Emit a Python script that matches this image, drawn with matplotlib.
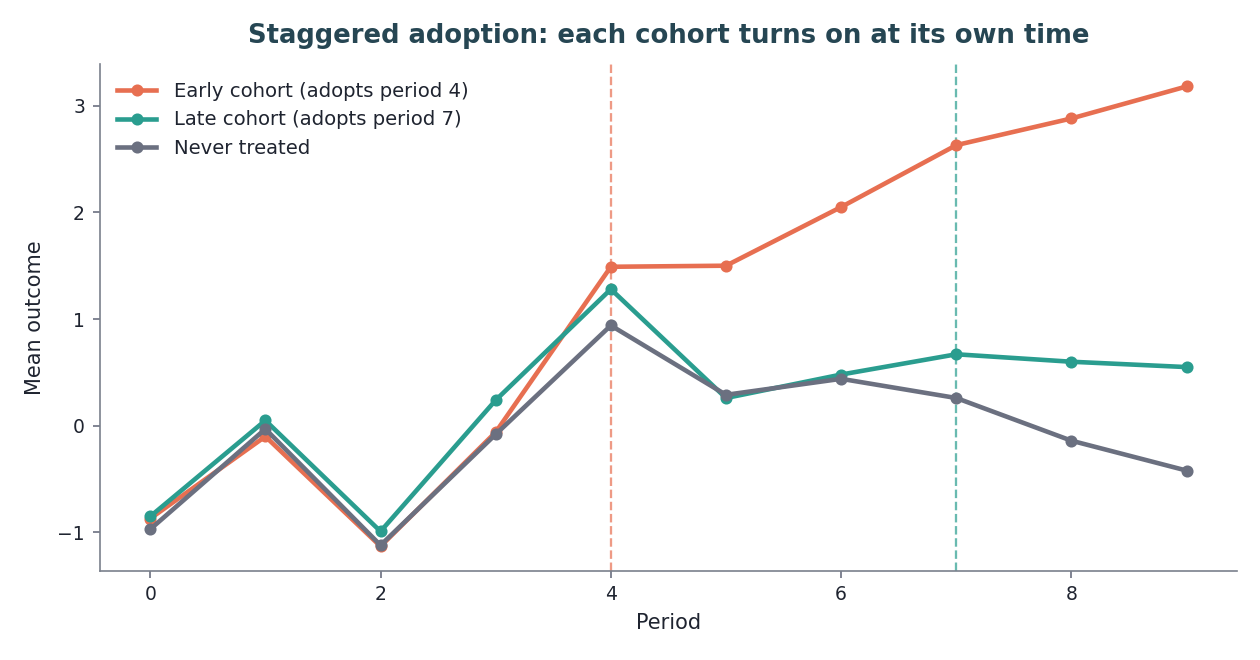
import numpy as np
import matplotlib
matplotlib.use("Agg")
from matplotlib import pyplot as plt

periods = np.arange(10)
early = [-0.87, -0.10, -1.13, -0.06, 1.49, 1.50, 2.05, 2.63, 2.88, 3.18]
late = [-0.85, 0.05, -0.99, 0.24, 1.28, 0.26, 0.48, 0.67, 0.60, 0.55]
never = [-0.97, -0.03, -1.12, -0.08, 0.94, 0.29, 0.44, 0.26, -0.14, -0.42]
labels = ["Early cohort (adopts period 4)", "Late cohort (adopts period 7)", "Never treated"]
adopt = [4, 7]

c_early = "#e76f51"
c_late = "#2a9d8f"
c_never = "#6b7080"
txt = "#1f2430"

fig, ax = plt.subplots(figsize=(8.4, 4.4), dpi=150)
ax.axvline(adopt[0], color=c_early, ls="--", lw=1.1, alpha=0.7)
ax.axvline(adopt[1], color=c_late, ls="--", lw=1.1, alpha=0.7)

for y, c, lab in zip([early, late, never], [c_early, c_late, c_never], labels):
    ax.plot(periods, y, color=c, lw=2.2, marker="o", ms=4.8, label=lab)

ax.set_xlim(-0.44, 9.44)
ax.set_ylim(-1.36, 3.39)
ax.set_xlabel("Period", fontsize=10, color=txt)
ax.set_ylabel("Mean outcome", fontsize=10, color=txt, labelpad=6)
ax.set_title("Staggered adoption: each cohort turns on at its own time",
             fontsize=12.4, fontweight="bold", color="#264653", pad=10)
ax.tick_params(labelsize=9, colors="#6b7080", labelcolor=txt)
for s in ["top", "right"]:
    ax.spines[s].set_visible(False)
for s in ["left", "bottom"]:
    ax.spines[s].set_color("#7a808c")
ax.legend(loc="upper left", frameon=False, fontsize=9.4, labelcolor=txt,
          handletextpad=0.9)

fig.subplots_adjust(left=0.079, right=0.982, bottom=0.135, top=0.903)
fig.savefig("out.png")
